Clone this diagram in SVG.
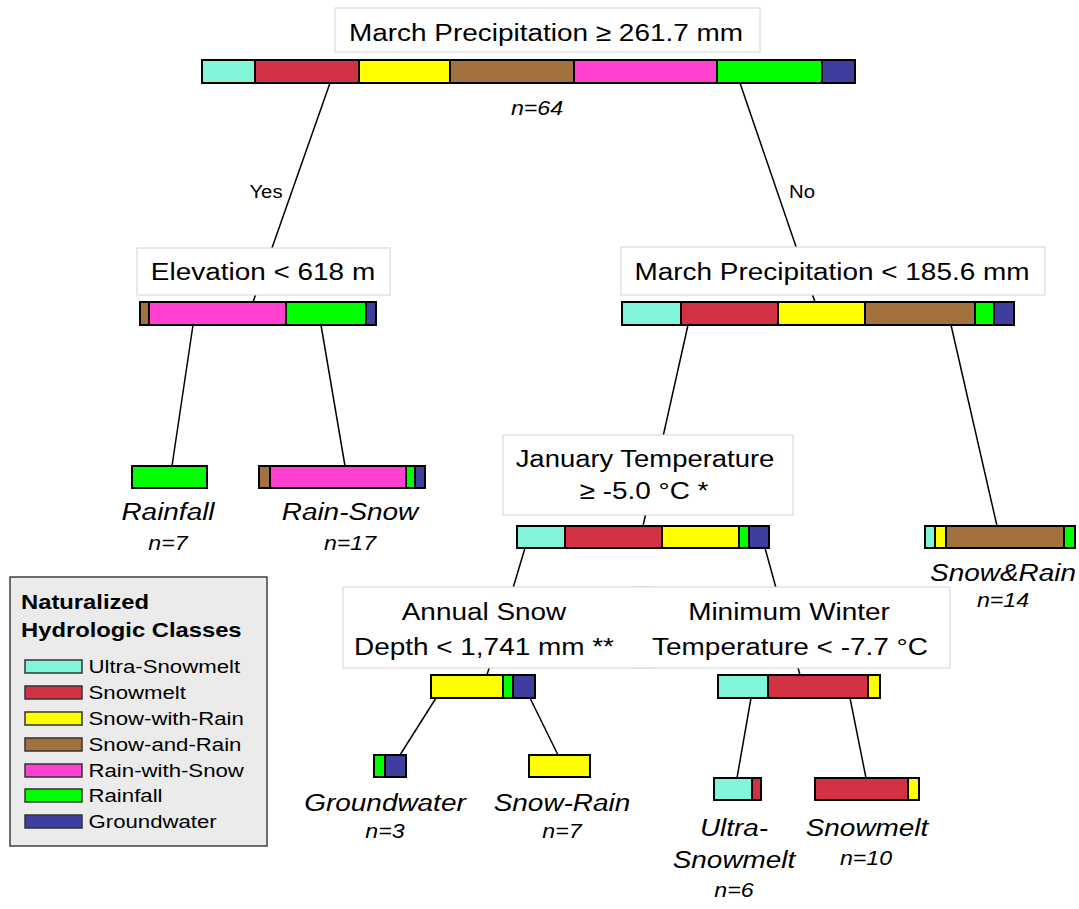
<svg xmlns="http://www.w3.org/2000/svg" width="1079" height="909" viewBox="0 0 1079 909">
<style>
text{font-family:"Liberation Sans",Arial,sans-serif;fill:#000}
.lbl{font-size:24.5px;text-anchor:middle}
.leaf{font-size:24.5px;font-style:italic;text-anchor:middle}
.n{font-size:20px;font-style:italic;text-anchor:middle}
.yn{font-size:17.5px;text-anchor:middle}
.lt{font-size:20.5px;font-weight:bold}
.li{font-size:18.5px}
.box{fill:#fff;stroke:#d4d4d4;stroke-width:1}
.bar rect{stroke:#000;stroke-width:2}
.sw{stroke:#333;stroke-width:1.5}
.C{fill:#80f5da}.R{fill:#d23244}.Y{fill:#ffff00}.Br{fill:#a3703f}.M{fill:#ff40d0}.G{fill:#00ff00}.B{fill:#3e3e9e}
.con line{stroke:#000;stroke-width:1.5}
</style>
<rect width="1079" height="909" fill="#fff"/>
<g id="connectors" class="con">
<line x1="330" y1="83" x2="253" y2="302"/>
<line x1="740" y1="83" x2="815" y2="302"/>
<line x1="193" y1="325" x2="172" y2="466"/>
<line x1="321" y1="325" x2="345" y2="466"/>
<line x1="688" y1="325" x2="643" y2="526"/>
<line x1="951" y1="325" x2="997" y2="526"/>
<line x1="525" y1="548" x2="487" y2="675"/>
<line x1="765" y1="548" x2="800" y2="675"/>
<line x1="436" y1="698" x2="400" y2="755"/>
<line x1="530" y1="698" x2="558" y2="755"/>
<line x1="751" y1="698" x2="737" y2="778"/>
<line x1="850" y1="698" x2="866" y2="778"/>
<text class="yn" transform="translate(266,198) scale(1.16 1)">Yes</text>
<text class="yn" transform="translate(802,198) scale(1.16 1)">No</text>
</g>
<g id="root">
<rect class="box" x="335" y="8" width="425" height="44"/>
<text class="lbl" transform="translate(546,41) scale(1.14 1)">March Precipitation ≥ 261.7 mm</text>
<g class="bar">
<rect class="C" x="202" y="60" width="53" height="23"/>
<rect class="R" x="255" y="60" width="104" height="23"/>
<rect class="Y" x="359" y="60" width="91" height="23"/>
<rect class="Br" x="450" y="60" width="124" height="23"/>
<rect class="M" x="574" y="60" width="143" height="23"/>
<rect class="G" x="717" y="60" width="105" height="23"/>
<rect class="B" x="822" y="60" width="33" height="23"/>
</g>
<text class="n" transform="translate(537,115) scale(1.16 1)">n=64</text>
</g>
<g id="elevation">
<rect class="box" x="137" y="248" width="253" height="47"/>
<text class="lbl" transform="translate(263,280) scale(1.14 1)">Elevation &lt; 618 m</text>
<g class="bar">
<rect class="Br" x="140" y="302" width="9" height="23"/>
<rect class="M" x="149" y="302" width="137" height="23"/>
<rect class="G" x="286" y="302" width="80" height="23"/>
<rect class="B" x="366" y="302" width="10" height="23"/>
</g>
</g>
<g id="march2">
<rect class="box" x="621" y="247" width="424" height="48"/>
<text class="lbl" transform="translate(832,280) scale(1.14 1)">March Precipitation &lt; 185.6 mm</text>
<g class="bar">
<rect class="C" x="622" y="302" width="59" height="23"/>
<rect class="R" x="681" y="302" width="97" height="23"/>
<rect class="Y" x="778" y="302" width="87" height="23"/>
<rect class="Br" x="865" y="302" width="110" height="23"/>
<rect class="G" x="975" y="302" width="19" height="23"/>
<rect class="B" x="994" y="302" width="20" height="23"/>
</g>
</g>
<g id="leaf-rainfall">
<g class="bar"><rect class="G" x="132" y="466" width="75" height="22"/></g>
<text class="leaf" transform="translate(168,520) scale(1.14 1)">Rainfall</text>
<text class="n" transform="translate(168,550) scale(1.16 1)">n=7</text>
</g>
<g id="leaf-rain-snow">
<g class="bar">
<rect class="Br" x="259" y="466" width="11" height="22"/>
<rect class="M" x="270" y="466" width="136" height="22"/>
<rect class="G" x="406" y="466" width="9" height="22"/>
<rect class="B" x="415" y="466" width="10" height="22"/>
</g>
<text class="leaf" transform="translate(350,520) scale(1.14 1)">Rain-Snow</text>
<text class="n" transform="translate(350,550) scale(1.16 1)">n=17</text>
</g>
<g id="january">
<rect class="box" x="503" y="435" width="290" height="80"/>
<text class="lbl" transform="translate(645,467) scale(1.12 1)">January Temperature</text>
<text class="lbl" transform="translate(644,499) scale(1.14 1)">≥ -5.0 °C *</text>
<g class="bar">
<rect class="C" x="517" y="526" width="48" height="22"/>
<rect class="R" x="565" y="526" width="97" height="22"/>
<rect class="Y" x="662" y="526" width="77" height="22"/>
<rect class="G" x="739" y="526" width="10" height="22"/>
<rect class="B" x="749" y="526" width="20" height="22"/>
</g>
</g>
<g id="leaf-snow-and-rain">
<g class="bar">
<rect class="C" x="925" y="526" width="10" height="22"/>
<rect class="Y" x="935" y="526" width="11" height="22"/>
<rect class="Br" x="946" y="526" width="118" height="22"/>
<rect class="G" x="1064" y="526" width="11" height="22"/>
</g>
<text class="leaf" transform="translate(1003,581) scale(1.14 1)">Snow&amp;Rain</text>
<text class="n" transform="translate(1003,607) scale(1.16 1)">n=14</text>
</g>
<g id="annual-snow">
<rect class="box" x="343" y="587" width="310" height="81"/>
<text class="lbl" transform="translate(484,620) scale(1.14 1)">Annual Snow</text>
<text class="lbl" transform="translate(484,655) scale(1.14 1)">Depth &lt; 1,741 mm **</text>
<g class="bar">
<rect class="Y" x="431" y="675" width="72" height="23"/>
<rect class="G" x="503" y="675" width="10" height="23"/>
<rect class="B" x="513" y="675" width="22" height="23"/>
</g>
</g>
<g id="min-winter">
<rect class="box" x="632" y="587" width="318" height="81"/>
<rect x="631" y="587.5" width="3" height="80" fill="#fff"/>
<text class="lbl" transform="translate(789,620) scale(1.14 1)">Minimum Winter</text>
<text class="lbl" transform="translate(790,655) scale(1.14 1)">Temperature &lt; -7.7 °C</text>
<g class="bar">
<rect class="C" x="718" y="675" width="50" height="23"/>
<rect class="R" x="768" y="675" width="100" height="23"/>
<rect class="Y" x="868" y="675" width="12" height="23"/>
</g>
</g>
<g id="leaf-groundwater">
<g class="bar">
<rect class="G" x="374" y="755" width="11" height="22"/>
<rect class="B" x="385" y="755" width="21" height="22"/>
</g>
<text class="leaf" transform="translate(385,811) scale(1.14 1)">Groundwater</text>
<text class="n" transform="translate(385,838) scale(1.16 1)">n=3</text>
</g>
<g id="leaf-snow-rain">
<g class="bar"><rect class="Y" x="529" y="755" width="61" height="22"/></g>
<text class="leaf" transform="translate(562,811) scale(1.14 1)">Snow-Rain</text>
<text class="n" transform="translate(562,838) scale(1.16 1)">n=7</text>
</g>
<g id="leaf-ultra-snowmelt">
<g class="bar">
<rect class="C" x="714" y="778" width="38" height="22"/>
<rect class="R" x="752" y="778" width="9" height="22"/>
</g>
<text class="leaf" transform="translate(734,836) scale(1.14 1)">Ultra-</text>
<text class="leaf" transform="translate(734,868) scale(1.14 1)">Snowmelt</text>
<text class="n" transform="translate(734,897) scale(1.16 1)">n=6</text>
</g>
<g id="leaf-snowmelt">
<g class="bar">
<rect class="R" x="815" y="778" width="93" height="22"/>
<rect class="Y" x="908" y="778" width="11" height="22"/>
</g>
<text class="leaf" transform="translate(867,836) scale(1.14 1)">Snowmelt</text>
<text class="n" transform="translate(866,865) scale(1.16 1)">n=10</text>
</g>
<g id="legend">
<rect x="10" y="577" width="257" height="269" fill="#ebebeb" stroke="#404040" stroke-width="1.5"/>
<text class="lt" transform="translate(21,609) scale(1.16 1)">Naturalized</text>
<text class="lt" transform="translate(21,637) scale(1.16 1)">Hydrologic Classes</text>
<rect class="sw C" x="25" y="660" width="57" height="13"/>
<text class="li" transform="translate(88.5,673) scale(1.2 1)">Ultra-Snowmelt</text>
<rect class="sw R" x="25" y="686" width="57" height="13"/>
<text class="li" transform="translate(88.5,699) scale(1.2 1)">Snowmelt</text>
<rect class="sw Y" x="25" y="712" width="57" height="13"/>
<text class="li" transform="translate(88.5,725) scale(1.2 1)">Snow-with-Rain</text>
<rect class="sw Br" x="25" y="738" width="57" height="13"/>
<text class="li" transform="translate(88.5,751) scale(1.2 1)">Snow-and-Rain</text>
<rect class="sw M" x="25" y="764" width="57" height="13"/>
<text class="li" transform="translate(88.5,777) scale(1.2 1)">Rain-with-Snow</text>
<rect class="sw G" x="25" y="789" width="57" height="13"/>
<text class="li" transform="translate(88.5,802) scale(1.2 1)">Rainfall</text>
<rect class="sw B" x="25" y="815" width="57" height="13"/>
<text class="li" transform="translate(88.5,828) scale(1.2 1)">Groundwater</text>
</g>
</svg>
